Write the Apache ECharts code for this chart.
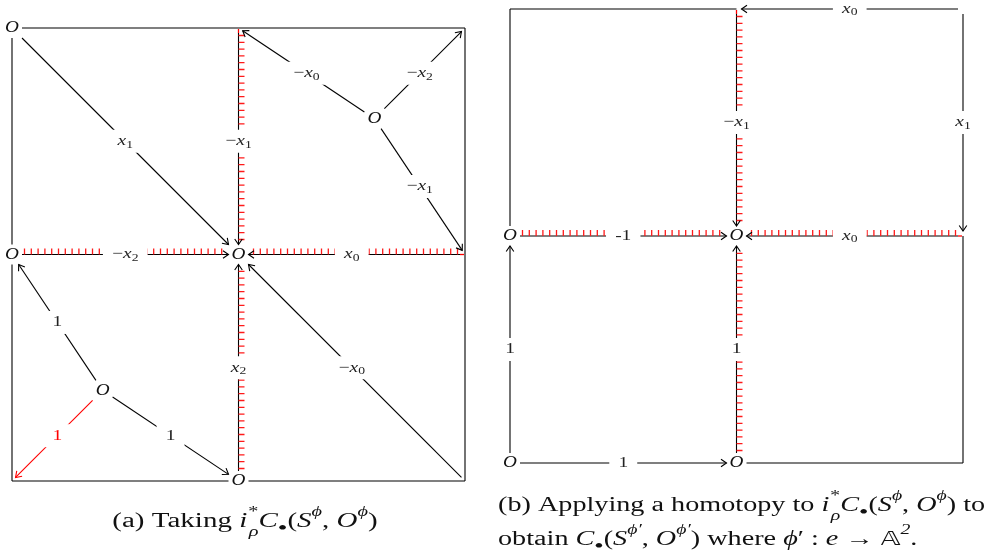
<!DOCTYPE html>
<html>
<head>
<meta charset="utf-8">
<script src="https://cdn.jsdelivr.net/npm/echarts@6/dist/echarts.min.js"></script>
<style>
html, body { margin: 0; padding: 0; background: #fff; }
#chart { width: 995px; height: 557px; }
</style>
</head>
<body>
<div id="chart"></div>
<script>
// diagram coordinates, one unit = one square; third entry marks an O node
var pointsA = {
    tl: [0, 0, 'O'], tm: [1, 0], tr: [2, 0],
    ml: [0, 1, 'O'], mm: [1, 1, 'O'], mr: [2, 1],
    bl: [0, 2], bm: [1, 2, 'O'], br: [2, 2],
    p: [1.6, 0.4, 'O'], q: [0.4, 1.6, 'O']
};
// [from, to, label, kind]
var edgesA = [
    ['tl', 'tr', '', 'plain'],
    ['tr', 'br', '', 'plain'],
    ['br', 'bm', '', 'plain'],
    ['tl', 'ml', '', 'plain'],
    ['ml', 'bl', '', 'plain'],
    ['bl', 'bm', '', 'plain'],
    ['tl', 'mm', 'x_1', 'arrow'],
    ['ml', 'mm', '-x_2', 'hatch'],
    ['tm', 'mm', '-x_1', 'hatch'],
    ['mr', 'mm', 'x_0', 'hatch'],
    ['bm', 'mm', 'x_2', 'hatch'],
    ['br', 'mm', '-x_0', 'arrow'],
    ['p', 'tm', '-x_0', 'arrow'],
    ['p', 'tr', '-x_2', 'arrow'],
    ['p', 'mr', '-x_1', 'arrow'],
    ['q', 'ml', '1', 'arrow'],
    ['q', 'bm', '1', 'arrow'],
    ['q', 'bl', '1', 'red']
];

var pointsB = {
    tl: [0, 0], tm: [1, 0], tr: [2, 0],
    ml: [0, 1, 'O'], mm: [1, 1, 'O'], mr: [2, 1],
    bl: [0, 2, 'O'], bm: [1, 2, 'O'], br: [2, 2]
};
var edgesB = [
    ['tr', 'tm', 'x_0', 'arrow'],
    ['tm', 'tl', '', 'plain'],
    ['tl', 'ml', '', 'plain'],
    ['tr', 'mr', 'x_1', 'arrow'],
    ['mr', 'br', '', 'plain'],
    ['br', 'bm', '', 'plain'],
    ['tm', 'mm', '-x_1', 'hatch'],
    ['ml', 'mm', '-1', 'hatch'],
    ['mr', 'mm', 'x_0', 'hatch'],
    ['bm', 'mm', '1', 'hatch'],
    ['bl', 'ml', '1', 'arrow'],
    ['bl', 'bm', '1', 'arrow']
];

var SERIF = "'Liberation Serif', 'DejaVu Serif', serif";

var labelRich = {
    m: { fontFamily: SERIF, fontStyle: 'italic', fontSize: 15, lineHeight: 18, verticalAlign: 'middle' },
    r: { fontFamily: SERIF, fontSize: 15, lineHeight: 18, verticalAlign: 'middle' },
    s: { fontFamily: SERIF, fontSize: 10.5, lineHeight: 9, verticalAlign: 'bottom' }
};

function mathRich(str) {
    var out = '';
    for (var i = 0; i < str.length; i++) {
        var c = str[i];
        if (c === '_') { out += '{s|' + str[++i] + '}'; }
        else if (c === '-') { out += '{r|' + (/[a-z]/.test(str[i + 1]) ? '\u2212' : '-') + '}'; }
        else if (/[a-z]/.test(c)) { out += '{m|' + c + '}'; }
        else { out += '{r|' + c + '}'; }
    }
    return out;
}

function shorten(pt, ux, uy, kind) {
    if (pt[2] === 'O') {
        return Math.min(ux ? 10 / Math.abs(ux) : 1e9, uy ? 10 / Math.abs(uy) : 1e9);
    }
    return kind === 'plain' ? 0 : 5;
}

function edgeRenderer(points, edges) {
    return function (params, api) {
        var e = edges[params.dataIndex];
        var A = points[e[0]], B = points[e[1]];
        var a = api.coord([api.value(0), api.value(1)]);
        var b = api.coord([api.value(2), api.value(3)]);
        var dx = b[0] - a[0], dy = b[1] - a[1];
        var len = Math.sqrt(dx * dx + dy * dy);
        var ux = dx / len, uy = dy / len;
        var s0 = shorten(A, ux, uy, e[3]), s1 = shorten(B, ux, uy, e[3]);
        var p0 = [a[0] + ux * s0, a[1] + uy * s0];
        var p1 = [b[0] - ux * s1, b[1] - uy * s1];
        var color = e[3] === 'red' ? '#ff0000' : '#000';
        var kids = [];
        kids.push({ type: 'line', shape: { x1: p0[0], y1: p0[1], x2: p1[0], y2: p1[1] },
            style: { stroke: color, lineWidth: 1.1 } });
        if (e[3] === 'hatch') {
            var nx = uy, ny = -ux;
            if (ny > 0.001 || (Math.abs(ny) < 0.001 && nx < 0)) { nx = -nx; ny = -ny; }
            var L = len - s0 - s1, d = '';
            for (var t = 2.5; t < L - 3; t += 6.8) {
                var x = p0[0] + ux * t, y = p0[1] + uy * t;
                d += 'M' + x.toFixed(2) + ' ' + y.toFixed(2) + 'L' + (x + nx * 6).toFixed(2) + ' ' + (y + ny * 6).toFixed(2);
            }
            kids.push({ type: 'path', shape: { pathData: d }, style: { stroke: '#ff1a1a', lineWidth: 1.3, fill: null } });
            if (A[2] !== 'O') {
                kids.push({ type: 'line', shape: { x1: a[0] + ux * 1, y1: a[1] + uy * 1, x2: p0[0], y2: p0[1] },
                    style: { stroke: '#ff0000', lineWidth: 1.3 } });
            }
        }
        if (e[3] !== 'plain') {
            var hx = -uy, hy = ux;
            kids.push({ type: 'polyline', shape: { points: [
                [p1[0] - ux * 5.5 + hx * 3.8, p1[1] - uy * 5.5 + hy * 3.8],
                [p1[0], p1[1]],
                [p1[0] - ux * 5.5 - hx * 3.8, p1[1] - uy * 5.5 - hy * 3.8]
            ] }, style: { stroke: color, lineWidth: 1.1, fill: null } });
        }
        if (e[2]) {
            kids.push({ type: 'text', x: (a[0] + b[0]) / 2, y: (a[1] + b[1]) / 2, scaleX: 1.3,
                style: { text: mathRich(e[2]), rich: labelRich, fill: e[3] === 'red' ? '#ff0000' : '#222',
                    align: 'center', verticalAlign: 'middle', backgroundColor: '#fff', padding: [2.5, 7] } });
        }
        return { type: 'group', children: kids };
    };
}

function nodeRenderer(params, api) {
    var c = api.coord([api.value(0), api.value(1)]);
    return { type: 'text', x: c[0], y: c[1], scaleX: 1.2,
        style: { text: 'O', fill: '#111', font: 'italic 16px ' + SERIF, align: 'center', verticalAlign: 'middle' } };
}

function edgeData(points, edges) {
    return edges.map(function (e) {
        var a = points[e[0]], b = points[e[1]];
        return [a[0], a[1], b[0], b[1]];
    });
}
function nodeData(points) {
    var out = [];
    for (var k in points) { if (points[k][2] === 'O') out.push([points[k][0], points[k][1]]); }
    return out;
}

var capRich = {
    r: { fontFamily: SERIF, fontSize: 20, lineHeight: 34, verticalAlign: 'middle' },
    i: { fontFamily: SERIF, fontStyle: 'italic', fontSize: 20, lineHeight: 34, verticalAlign: 'middle' },
    sup: { fontFamily: SERIF, fontStyle: 'italic', fontSize: 14, lineHeight: 22, verticalAlign: 'top' },
    sub: { fontFamily: SERIF, fontStyle: 'italic', fontSize: 14, lineHeight: 22, verticalAlign: 'bottom' },
    subs: { fontFamily: SERIF, fontStyle: 'italic', fontSize: 14, lineHeight: 22, verticalAlign: 'bottom', padding: [0, 0, 0, -6] },
    bul: { fontFamily: SERIF, fontSize: 19, lineHeight: 24, verticalAlign: 'bottom' },
    bb: { fontFamily: "'DejaVu Sans', " + SERIF, fontSize: 19, lineHeight: 34, verticalAlign: 'middle' }
};
var pairTxt = '{i|C}{bul|\u2022}{r|(}{i|S}{sup|\u03d5}{r|, }{i|O}{sup|\u03d5}{r|)}';
var pairTxt2 = '{i|C}{bul|\u2022}{r|(}{i|S}{sup|\u03d5\u2032}{r|, }{i|O}{sup|\u03d5\u2032}{r|)}';
var pullTxt = '{i|i}{sup|*}{subs|\u03c1}';
var captionA = '{r|(a) Taking }' + pullTxt + pairTxt;
var captionB = '{r|(b) Applying a homotopy to }' + pullTxt + pairTxt + '{r| to}\n' +
    '{r|obtain }' + pairTxt2 + '{r| where }{i|\u03d5}{r|\u2032 : }{i|e}{r| \u2192 }{bb|\ud835\udd38}{sup|2}{r|.}';

var chart = echarts.init(document.getElementById('chart'));
chart.setOption({
    animation: false,
    grid: [
        { left: 12, top: 28, width: 453, height: 453 },
        { left: 510, top: 9, width: 453, height: 454 }
    ],
    xAxis: [
        { gridIndex: 0, type: 'value', min: 0, max: 2, show: false },
        { gridIndex: 1, type: 'value', min: 0, max: 2, show: false }
    ],
    yAxis: [
        { gridIndex: 0, type: 'value', min: 0, max: 2, inverse: true, show: false },
        { gridIndex: 1, type: 'value', min: 0, max: 2, inverse: true, show: false }
    ],
    series: [
        { type: 'custom', xAxisIndex: 0, yAxisIndex: 0, silent: true, renderItem: edgeRenderer(pointsA, edgesA), data: edgeData(pointsA, edgesA) },
        { type: 'custom', xAxisIndex: 0, yAxisIndex: 0, silent: true, renderItem: nodeRenderer, data: nodeData(pointsA) },
        { type: 'custom', xAxisIndex: 1, yAxisIndex: 1, silent: true, renderItem: edgeRenderer(pointsB, edgesB), data: edgeData(pointsB, edgesB) },
        { type: 'custom', xAxisIndex: 1, yAxisIndex: 1, silent: true, renderItem: nodeRenderer, data: nodeData(pointsB) }
    ],
    graphic: [
        { type: 'text', x: 245, y: 522, scaleX: 1.45, silent: true,
          style: { text: captionA, rich: capRich, fill: '#111', align: 'center', verticalAlign: 'middle' } },
        { type: 'text', x: 498, y: 523, scaleX: 1.41, silent: true,
          style: { text: captionB, rich: capRich, fill: '#111', align: 'left', verticalAlign: 'middle' } }
    ]
});
</script>
</body>
</html>
